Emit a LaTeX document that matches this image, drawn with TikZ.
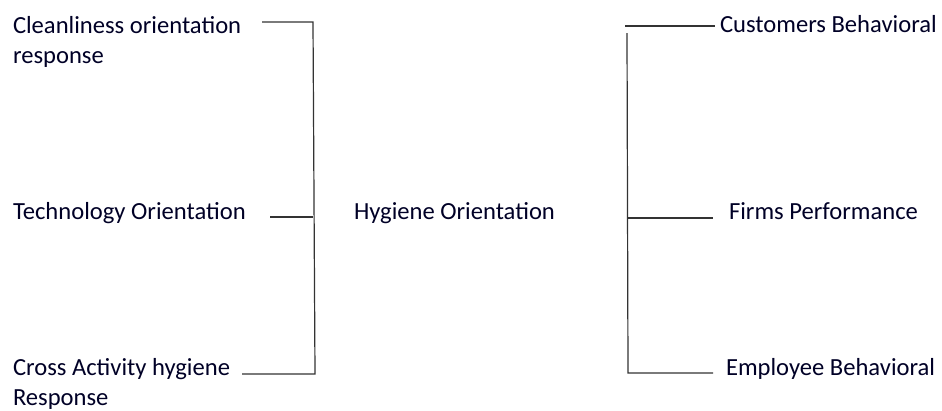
\documentclass[tikz,border=0pt]{standalone}
\usepackage{fontspec}
\setmainfont{Carlito}
\begin{document}
\begin{tikzpicture}[x=1pt,y=-1pt,
  lbl/.style={anchor=base west,inner sep=0pt,outer sep=0pt,text=black!85!blue,font=\fontsize{24.6}{30}\selectfont,align=left},
  conn/.style={draw=black!80,line width=1.2pt}]
\useasboundingbox (0,0) rectangle (942,410);
% left labels
\node[lbl] (c1) at (13,33) {Cleanliness orientation};
\node[lbl] (c1b) at (13,63) {response};
\node[lbl] (c2) at (13,219) {Technology Orientation};
\node[lbl] (c3) at (13,375) {Cross Activity hygiene};
\node[lbl] (c3b) at (13,405) {Response};
\node[lbl] (h) at (354,219) {Hygiene Orientation};
% right labels
\node[lbl] (r1) at (720,32) {Customers Behavioral};
\node[lbl] (r2) at (729,219) {Firms Performance};
\node[lbl] (r3) at (726,375) {Employee Behavioral};
% left bracket coordinates
\coordinate (l1s) at (262,22);
\coordinate (l1e) at (313,22);
\coordinate (l2s) at (270,217);
\coordinate (l2e) at (313,217);
\coordinate (l3s) at (242,374);
\coordinate (l3e) at (315,374);
\draw[conn] (l1s) -- (l1e) -- (l3e) -- (l3s);
\draw[conn] (l2s) -- (l2e);
% right bracket coordinates
\coordinate (r1s) at (625,26);
\coordinate (r1e) at (715,26);
\coordinate (rv) at (627,33);
\coordinate (r2s) at (627,218);
\coordinate (r2e) at (713,218);
\coordinate (r3s) at (628,373);
\coordinate (r3e) at (713,373);
\draw[conn] (r1s) -- (r1e);
\draw[conn] (rv) -- (r3s) -- (r3e);
\draw[conn] (r2s) -- (r2e);
\end{tikzpicture}
\end{document}
